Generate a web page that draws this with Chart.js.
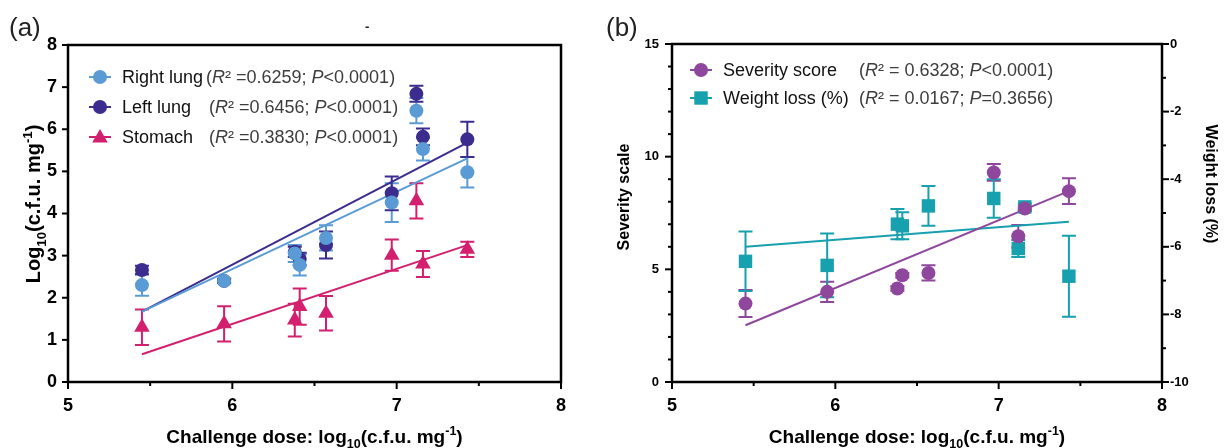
<!DOCTYPE html>
<html><head><meta charset="utf-8">
<script src="https://cdn.jsdelivr.net/npm/chart.js@4/dist/chart.umd.min.js"></script>
<style>
html,body{margin:0;padding:0;background:#fff;width:1226px;height:448px;overflow:hidden}
#c1{position:absolute;left:0;top:0}
#c2{position:absolute;left:600px;top:0}
</style></head><body>
<canvas id="c1" width="600" height="448"></canvas>
<canvas id="c2" width="626" height="448"></canvas>
<script>
const FONT = "'Liberation Sans', Arial, Helvetica, sans-serif";

// ---- data ----
const dose = [5.45, 5.95, 6.38, 6.41, 6.57, 6.97, 7.12, 7.16, 7.43];
const rightLung    = [2.30, 2.40, 3.05, 2.78, 3.42, 4.26, 6.44, 5.53, 4.98];
const rightLungErr = [0.25, 0.05, 0.20, 0.25, 0.30, 0.46, 0.30, 0.27, 0.36];
const leftLung     = [2.66, 2.40, 3.09, 2.92, 3.25, 4.48, 6.84, 5.82, 5.76];
const leftLungErr  = [0.10, 0.05, 0.12, 0.15, 0.32, 0.40, 0.19, 0.20, 0.42];
const stomach      = [1.30, 1.38, 1.47, 1.79, 1.63, 3.01, 4.30, 2.80, 3.15];
const stomachErr   = [0.42, 0.42, 0.39, 0.43, 0.41, 0.37, 0.42, 0.31, 0.18];
const fitDose = [5.45, 7.43];
const rightLungFit = [1.67, 5.31];
const leftLungFit  = [1.67, 5.68];
const stomachFit   = [0.66, 3.25];

const severity    = [3.48, 4.00, 4.15, 4.74, 4.84, 9.30, 6.47, 7.70, 8.47];
const severityErr = [0.60, 0.45, 0.10, 0.10, 0.34, 0.37, 0.50, 0.10, 0.57];
const weight      = [-6.43, -6.55, -5.33, -5.38, -4.79, -4.57, -6.05, -4.82, -6.87];
const weightErr   = [0.88, 0.94, 0.45, 0.40, 0.59, 0.57, 0.25, 0.10, 1.20];
const severityFit = [2.52, 8.47];
const weightFit   = [-6.00, -5.26];

const xTicks = [5, 6, 7, 8];
const cfuTicks = [0, 1, 2, 3, 4, 5, 6, 7, 8];
const severityTicks = [0, 5, 10, 15];
const weightTicks = [0, -2, -4, -6, -8, -10];

const leftNames = ['Right lung', 'Left lung', 'Stomach'];
const leftR2 = ['0.6259', '0.6456', '0.3830'];
const leftP  = ['<0.0001', '<0.0001', '<0.0001'];
const rightNames = ['Severity score', 'Weight loss (%)'];
const rightR2 = ['0.6328', '0.0167'];
const rightP  = ['<0.0001', '=0.3656'];

const C_RL = '#5b9bd5', C_LL = '#3b2c8e', C_ST = '#d3206e', C_SV = '#8e479c', C_WL = '#17a0ad';

// ---- helpers ----
const pts = (xs, ys) => xs.map((x, i) => ({x, y: ys[i]}));

function drawRich(ctx, segs, x, y, size, opts) {
  opts = opts || {};
  let total = 0;
  const items = segs.map(s => {
    const sz = (s.sub || s.sup) ? size * 0.66 : size;
    const font = (s.italic ? 'italic ' : '') + (opts.weight || 'normal') + ' ' + sz + 'px ' + FONT;
    ctx.font = font;
    const w = ctx.measureText(s.t).width;
    total += w;
    return {s, font, w, dy: s.sub ? size * 0.28 : (s.sup ? -size * 0.42 : 0)};
  });
  let cx = opts.align === 'center' ? x - total / 2 : x;
  ctx.textBaseline = 'alphabetic';
  ctx.textAlign = 'left';
  items.forEach(it => {
    ctx.font = it.font;
    ctx.fillStyle = it.s.color || opts.color || '#000';
    ctx.fillText(it.s.t, cx, y + it.dy);
    cx += it.w;
  });
}

function drawMarker(ctx, style, x, y, r, color) {
  ctx.save();
  ctx.fillStyle = color;
  ctx.beginPath();
  if (style === 'circle') ctx.arc(x, y, r, 0, Math.PI * 2);
  else if (style === 'triangle') {
    ctx.moveTo(x, y - r);
    ctx.lineTo(x + r * 0.866, y + r * 0.5);
    ctx.lineTo(x - r * 0.866, y + r * 0.5);
    ctx.closePath();
  } else {
    const h = r * Math.SQRT1_2;
    ctx.rect(x - h, y - h, 2 * h, 2 * h);
  }
  ctx.fill();
  ctx.restore();
}

const errorBarPlugin = {
  id: 'errorBars',
  beforeDatasetsDraw(chart) {
    const ctx = chart.ctx;
    chart.data.datasets.forEach(ds => {
      if (!ds.errorBars) return;
      const xs = chart.scales.x, ys = chart.scales[ds.yAxisID || 'y'];
      ctx.save();
      ctx.strokeStyle = ds.backgroundColor;
      ctx.lineWidth = 2;
      ds.data.forEach((p, i) => {
        const e = ds.errorBars[i];
        if (!e) return;
        const px = xs.getPixelForValue(p.x);
        const y1 = ys.getPixelForValue(p.y + e), y2 = ys.getPixelForValue(p.y - e);
        ctx.beginPath();
        ctx.moveTo(px, y1); ctx.lineTo(px, y2);
        ctx.moveTo(px - 7, y1); ctx.lineTo(px + 7, y1);
        ctx.moveTo(px - 7, y2); ctx.lineTo(px + 7, y2);
        ctx.stroke();
      });
      ctx.restore();
    });
  }
};

function tickLines(ctx, scale, values, len, side) {
  values.forEach(v => {
    const p = scale.getPixelForValue(v);
    ctx.beginPath();
    if (side === 'bottom') { ctx.moveTo(p, scale.top); ctx.lineTo(p, scale.top + len); }
    else if (side === 'left') { ctx.moveTo(scale.right, p); ctx.lineTo(scale.right - len, p); }
    else { ctx.moveTo(scale.left, p); ctx.lineTo(scale.left + len, p); }
    ctx.stroke();
  });
}

function frame(ctx, a) {
  ctx.save();
  ctx.strokeStyle = '#000';
  ctx.lineWidth = 2.5;
  ctx.strokeRect(a.left, a.top, a.right - a.left, a.bottom - a.top);
  ctx.restore();
}

const xMinor = [5.5, 6.5, 7.5];
const xTitleSegs = [{t: 'Challenge dose: log'}, {t: '10', sub: true}, {t: '(c.f.u. mg'}, {t: '-1', sup: true}, {t: ')'}];

function statSegs(r2, p, spaced) {
  return [{t: '('}, {t: 'R', italic: true}, {t: spaced ? '\u00B2 = ' + r2 + '; ' : '\u00B2 =' + r2 + '; '}, {t: 'P', italic: true}, {t: p + ')'}];
}

const baseTickFont = size => ({family: FONT, size, weight: 'bold'});
const commonScale = {grid: {display: false, drawTicks: false}, border: {display: false}};

// ---------------- Chart (a) ----------------
const decorA = {
  id: 'decorA',
  afterDraw(chart) {
    const ctx = chart.ctx, a = chart.chartArea;
    frame(ctx, a);
    ctx.save();
    ctx.strokeStyle = '#000'; ctx.lineWidth = 2;
    tickLines(ctx, chart.scales.x, xTicks, 7, 'bottom');
    tickLines(ctx, chart.scales.x, xMinor, 4, 'bottom');
    tickLines(ctx, chart.scales.y, cfuTicks, 6, 'left');
    ctx.restore();
    // titles
    drawRich(ctx, xTitleSegs, (a.left + a.right) / 2, 443, 19, {weight: 'bold', align: 'center'});
    ctx.save();
    ctx.translate(40, 204);
    ctx.rotate(-Math.PI / 2);
    drawRich(ctx, [{t: 'Log'}, {t: '10', sub: true}, {t: '(c.f.u. mg'}, {t: '-1', sup: true}, {t: ')'}], 0, 0, 20, {weight: 'bold', align: 'center'});
    ctx.restore();
    drawRich(ctx, [{t: '(a)'}], 9, 36, 26, {color: '#222'});
    drawRich(ctx, [{t: '-'}], 365, 31, 13, {weight: 'bold', color: '#222'});
    // legend
    const rows = [
      {y: 77, c: C_RL, s: 'circle', r: 7, statX: 206},
      {y: 107, c: C_LL, s: 'circle', r: 7, statX: 209},
      {y: 137, c: C_ST, s: 'triangle', r: 9, statX: 209}
    ];
    rows.forEach((row, i) => {
      ctx.save();
      ctx.strokeStyle = row.c; ctx.lineWidth = 2;
      ctx.beginPath(); ctx.moveTo(89, row.y); ctx.lineTo(111, row.y); ctx.stroke();
      ctx.restore();
      drawMarker(ctx, row.s, 100, row.s === 'triangle' ? row.y + 1 : row.y, row.r, row.c);
      drawRich(ctx, [{t: leftNames[i]}], 122, row.y + 6, 18, {color: '#111'});
      drawRich(ctx, statSegs(leftR2[i], leftP[i], false), row.statX, row.y + 6, 18, {color: '#3d3d3d'});
    });
  }
};

new Chart(document.getElementById('c1'), {
  type: 'scatter',
  data: {
    datasets: [
      {label: leftNames[0], data: pts(dose, rightLung), errorBars: rightLungErr, backgroundColor: C_RL, borderColor: C_RL,
       pointStyle: 'circle', pointRadius: 7, borderWidth: 0, order: 1},
      {label: leftNames[1], data: pts(dose, leftLung), errorBars: leftLungErr, backgroundColor: C_LL, borderColor: C_LL,
       pointStyle: 'circle', pointRadius: 7, borderWidth: 0, order: 2},
      {label: leftNames[2], data: pts(dose, stomach), errorBars: stomachErr, backgroundColor: C_ST, borderColor: C_ST,
       pointStyle: 'triangle', pointRadius: 9, borderWidth: 0, order: 3},
      {type: 'line', data: pts(fitDose, leftLungFit), borderColor: C_LL, backgroundColor: C_LL, borderWidth: 2, pointRadius: 0, fill: false, order: 6},
      {type: 'line', data: pts(fitDose, rightLungFit), borderColor: C_RL, backgroundColor: C_RL, borderWidth: 2, pointRadius: 0, fill: false, order: 5},
      {type: 'line', data: pts(fitDose, stomachFit), borderColor: C_ST, backgroundColor: C_ST, borderWidth: 2, pointRadius: 0, fill: false, order: 4}
    ]
  },
  options: {
    responsive: false, animation: false,
    layout: {padding: {top: 45, right: 39, left: 0, bottom: 0}},
    plugins: {legend: {display: false}, tooltip: {enabled: false}},
    scales: {
      x: Object.assign({}, commonScale, {type: 'linear', position: 'bottom', min: 5, max: 8,
        afterBuildTicks: s => { s.ticks = xTicks.map(v => ({value: v})); },
        afterFit: s => { s.height = 66; },
        ticks: {font: baseTickFont(18), color: '#000', padding: 13, maxRotation: 0, autoSkip: false, callback: v => String(v)}}),
      y: Object.assign({}, commonScale, {type: 'linear', position: 'left', min: 0, max: 8,
        afterBuildTicks: s => { s.ticks = cfuTicks.map(v => ({value: v})); },
        afterFit: s => { s.width = 68; },
        ticks: {font: baseTickFont(18), color: '#000', padding: 11, autoSkip: false, callback: v => String(v)}})
    }
  },
  plugins: [errorBarPlugin, decorA]
});

// ---------------- Chart (b) ----------------
const sevMinor = [1,2,3,4,6,7,8,9,11,12,13,14];
const wlMinor = [-1,-3,-5,-7,-9];
const decorB = {
  id: 'decorB',
  afterDraw(chart) {
    const ctx = chart.ctx, a = chart.chartArea;
    frame(ctx, a);
    ctx.save();
    ctx.strokeStyle = '#000'; ctx.lineWidth = 2;
    tickLines(ctx, chart.scales.x, xTicks, 7, 'bottom');
    tickLines(ctx, chart.scales.x, xMinor, 4, 'bottom');
    tickLines(ctx, chart.scales.y, severityTicks, 7, 'left');
    tickLines(ctx, chart.scales.y, sevMinor, 4, 'left');
    tickLines(ctx, chart.scales.y2, weightTicks, 7, 'right');
    tickLines(ctx, chart.scales.y2, wlMinor, 4, 'right');
    ctx.restore();
    drawRich(ctx, xTitleSegs, (a.left + a.right) / 2, 443, 19, {weight: 'bold', align: 'center'});
    ctx.save();
    ctx.translate(29, 197);
    ctx.rotate(-Math.PI / 2);
    drawRich(ctx, [{t: 'Severity scale'}], 0, 0, 16, {weight: 'bold', align: 'center'});
    ctx.restore();
    ctx.save();
    ctx.translate(606, 184);
    ctx.rotate(Math.PI / 2);
    drawRich(ctx, [{t: 'Weight loss (%)'}], 0, 0, 16, {weight: 'bold', align: 'center'});
    ctx.restore();
    drawRich(ctx, [{t: '(b)'}], 6, 36, 26, {color: '#222'});
    const rows = [
      {y: 70, c: C_SV, s: 'circle', r: 7},
      {y: 98, c: C_WL, s: 'rect', r: 9.5}
    ];
    rows.forEach((row, i) => {
      ctx.save();
      ctx.strokeStyle = row.c; ctx.lineWidth = 2;
      ctx.beginPath(); ctx.moveTo(90, row.y); ctx.lineTo(112, row.y); ctx.stroke();
      ctx.restore();
      drawMarker(ctx, row.s, 101, row.y, row.r, row.c);
      drawRich(ctx, [{t: rightNames[i]}], 123, row.y + 6, 18, {color: '#111'});
      drawRich(ctx, statSegs(rightR2[i], rightP[i], true), 259, row.y + 6, 18, {color: '#3d3d3d'});
    });
  }
};

new Chart(document.getElementById('c2'), {
  type: 'scatter',
  data: {
    datasets: [
      {label: rightNames[0], data: pts(dose, severity), errorBars: severityErr, yAxisID: 'y', backgroundColor: C_SV, borderColor: C_SV,
       pointStyle: 'circle', pointRadius: 7, borderWidth: 0, order: 1},
      {label: rightNames[1], data: pts(dose, weight), errorBars: weightErr, yAxisID: 'y2', backgroundColor: C_WL, borderColor: C_WL,
       pointStyle: 'rect', pointRadius: 9.5, borderWidth: 0, order: 2},
      {type: 'line', data: pts(fitDose, severityFit), yAxisID: 'y', borderColor: C_SV, backgroundColor: C_SV, borderWidth: 2, pointRadius: 0, fill: false, order: 3},
      {type: 'line', data: pts(fitDose, weightFit), yAxisID: 'y2', borderColor: C_WL, backgroundColor: C_WL, borderWidth: 2, pointRadius: 0, fill: false, order: 4}
    ]
  },
  options: {
    responsive: false, animation: false,
    layout: {padding: {top: 44, right: 0, left: 0, bottom: 0}},
    plugins: {legend: {display: false}, tooltip: {enabled: false}},
    scales: {
      x: Object.assign({}, commonScale, {type: 'linear', position: 'bottom', min: 5, max: 8,
        afterBuildTicks: s => { s.ticks = xTicks.map(v => ({value: v})); },
        afterFit: s => { s.height = 66; },
        ticks: {font: baseTickFont(18), color: '#000', padding: 13, maxRotation: 0, autoSkip: false, callback: v => String(v)}}),
      y: Object.assign({}, commonScale, {type: 'linear', position: 'left', min: 0, max: 15,
        afterBuildTicks: s => { s.ticks = severityTicks.map(v => ({value: v})); },
        afterFit: s => { s.width = 72; },
        ticks: {font: baseTickFont(13), color: '#000', padding: 13, autoSkip: false, callback: v => String(v)}}),
      y2: Object.assign({}, commonScale, {type: 'linear', position: 'right', min: -10, max: 0,
        afterBuildTicks: s => { s.ticks = weightTicks.map(v => ({value: v})); },
        afterFit: s => { s.width = 64; },
        ticks: {font: baseTickFont(13), color: '#000', padding: 8, autoSkip: false, callback: v => String(v)}})
    }
  },
  plugins: [errorBarPlugin, decorB]
});
</script>
</body></html>
